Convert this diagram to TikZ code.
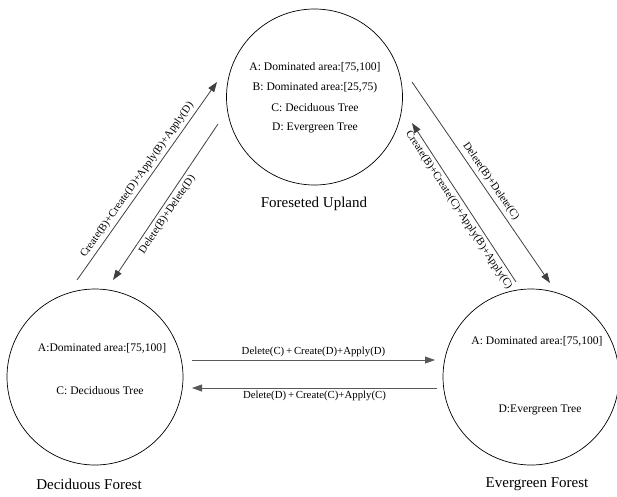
\documentclass[tikz,border=0pt]{standalone}
\usepackage{fontspec}
\setmainfont{Liberation Serif}
\usetikzlibrary{arrows.meta}
\tikzset{
  state/.style={circle, draw=black, line width=0.7pt, minimum size=176pt, inner sep=0pt},
  intext/.style={font=\fontsize{11.6}{13}\selectfont, inner sep=0pt},
  title/.style={font=\fontsize{15}{17}\selectfont, inner sep=0pt},
  trans/.style={draw=black!75, line width=0.8pt, -{Triangle[length=10pt,width=7pt]}},
  lab/.style={font=\fontsize{10.8}{12}\selectfont, text=black},
}
\newcommand{\pl}{\,{+}\,}
\begin{document}
\begin{tikzpicture}[x=1pt,y=-1pt]
\useasboundingbox (0,0) rectangle (617,496);
% states
\node[state] (up) at (314.5,97) {};
\node[state] (df) at (95,377) {};
\node[state] (ef) at (531,377) {};
% texts in the states
\node[intext] (upa) at (315,67) {A: Dominated area:[75,100]};
\node[intext] (upb) at (315,88) {B: Dominated area:[25,75)};
\node[intext] (upc) at (315,108) {C: Deciduous Tree};
\node[intext] (upd) at (315,128) {D: Evergreen Tree};
\node[intext] (dfa) at (102,348) {A:Dominated area:[75,100]};
\node[intext] (dfc) at (100,391) {C: Deciduous Tree};
\node[intext] (efa) at (537,341) {A: Dominated area:[75,100]};
\node[intext] (efd) at (540,410) {D:Evergreen Tree};
% titles
\node[title] (upt) at (314,204) {Foreseted Upland};
\node[title] (dft) at (89,484) {Deciduous Forest};
\node[title] (eft) at (537,484) {Evergreen Forest};
% connector end points
\coordinate (l1s) at (77,280);  \coordinate (l1e) at (217,82);
\coordinate (l2s) at (218,124); \coordinate (l2e) at (113,280);
\coordinate (r1s) at (412,82);  \coordinate (r1e) at (550,283);
\coordinate (r2s) at (516,282); \coordinate (r2e) at (412,123);
\coordinate (h1s) at (192,360); \coordinate (h1e) at (435,360);
\coordinate (h2s) at (437,388); \coordinate (h2e) at (192,388);
% connectors
\draw[trans] (l1s) -- node[lab, sloped, above, pos=0.48] {Create(B)+Create(D)+Apply(B)+Apply(D)} (l1e);
\draw[trans] (l2s) -- node[lab, sloped, below, pos=0.55] {Delete(B)+Delete(D)} (l2e);
\draw[trans] (r1s) -- node[lab, sloped, above, pos=0.52] {Delete(B)+Delete(C)} (r1e);
\draw[trans] (r2s) -- node[lab, sloped, below, pos=0.48] {Create(B)+Create(C)+Apply(B)+Apply(C)} (r2e);
\draw[trans, draw=black!65] (h1s) -- node[lab, above, inner sep=3pt] {Delete(C)\pl Create(D)+Apply(D)} (h1e);
\draw[trans, draw=black!65] (h2s) -- node[lab, below, inner sep=3pt] {Delete(D)\pl Create(C)+Apply(C)} (h2e);
\end{tikzpicture}
\end{document}
